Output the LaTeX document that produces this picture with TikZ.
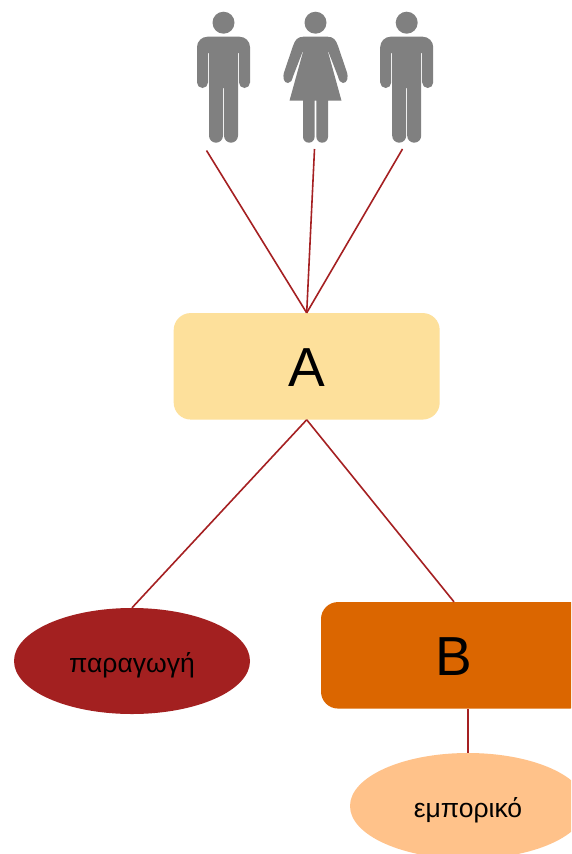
\documentclass[tikz,border=0pt]{standalone}
\usepackage{fontspec}
\setmainfont{Liberation Sans}
\usetikzlibrary{shapes.geometric}
\definecolor{linkred}{HTML}{A52022}
\definecolor{figgray}{HTML}{808080}
\definecolor{boxA}{HTML}{FDE09B}
\definecolor{boxB}{HTML}{DB6600}
\definecolor{ovalA}{HTML}{A32020}
\definecolor{ovalB}{HTML}{FFC28A}
\newcommand{\lowered}[2]{\raisebox{-#1}[0pt][0pt]{#2}}
\tikzset{
  link/.style={draw=linkred,line width=1.6pt},
  bigbox/.style={rectangle,rounded corners=17pt,minimum width=266pt,minimum height=106.5pt,inner sep=0pt,font=\fontsize{55}{55}\selectfont,text=black},
  oval/.style={ellipse,minimum width=236pt,minimum height=106pt,inner sep=0pt,font=\fontsize{26.5}{26.5}\selectfont,text=black},
  man/.pic={
    \fill[figgray] (0,22.7) circle (11);
    \fill[figgray] (-16,36.7) -- (16,36.7) arc[start angle=-90,end angle=0,radius=10.5] -- (26.5,82.5) arc[start angle=0,end angle=180,radius=5.5] -- (15.5,53) -- (-15.5,53) -- (-15.5,82.5) arc[start angle=0,end angle=180,radius=5.5] -- (-26.5,47.2) arc[start angle=180,end angle=270,radius=10.5] -- cycle;
    \fill[figgray] (-14.5,52) -- (14.5,52) -- (14.5,135.7) arc[start angle=0,end angle=180,radius=7] -- (0.5,88) -- (-0.5,88) -- (-0.5,135.7) arc[start angle=0,end angle=180,radius=7] -- cycle;
  },
  woman/.pic={
    \fill[figgray] (0,22.7) circle (11);
    \fill[figgray] (-12,36.7) -- (12,36.7) .. controls (18,36.7) and (20.5,40) .. (22.5,46) -- (31,71) .. controls (33.5,78) and (31.5,83) .. (27.5,83) .. controls (24.5,83) and (23.5,80) .. (22.5,76.5) -- (13,52) -- (-13,52) -- (-22.5,76.5) .. controls (-23.5,80) and (-24.5,83) .. (-27.5,83) .. controls (-31.5,83) and (-33.5,78) .. (-31,71) -- (-22.5,46) .. controls (-20.5,40) and (-18,36.7) .. (-12,36.7) -- cycle;
    \fill[figgray] (-12,50) -- (12,50) -- (26,100.7) -- (12.5,100.7) -- (12.5,136.9) arc[start angle=0,end angle=180,radius=5.8] -- (0.9,100.7) -- (-0.9,100.7) -- (-0.9,136.9) arc[start angle=0,end angle=180,radius=5.8] -- (-12.5,100.7) -- (-26,100.7) -- cycle;
  }
}
\begin{document}
\begin{tikzpicture}[x=1pt,y=-1pt]
\useasboundingbox (0,0) rectangle (571,854);
\clip (0,0) rectangle (571,854);
\fill[white] (0,0) rectangle (571,854);
\pic at (223.5,0) {man};
\pic at (315.5,0) {woman};
\pic at (406.7,0) {man};
\coordinate (f1) at (206.5,150.5);
\coordinate (f2) at (314.5,149);
\coordinate (f3) at (402.5,149);
\node[bigbox,fill=boxA] (A) at (306.7,366.3) {\lowered{20pt}{A}};
\node[bigbox,fill=boxB] (B) at (454,655.3) {\lowered{20pt}{B}};
\node[oval,fill=ovalA] (pa) at (132,661) {\lowered{11pt}{παραγωγή}};
\node[oval,fill=ovalB] (em) at (468,806) {\lowered{11pt}{εμπορικό}};
\draw[link] (f1) -- (A.north);
\draw[link] (f2) -- (A.north);
\draw[link] (f3) -- (A.north);
\draw[link] (A.south) -- (pa.north);
\draw[link] (A.south) -- (B.north);
\draw[link] (B.south -| em.north) -- (em.north);
\end{tikzpicture}
\end{document}
